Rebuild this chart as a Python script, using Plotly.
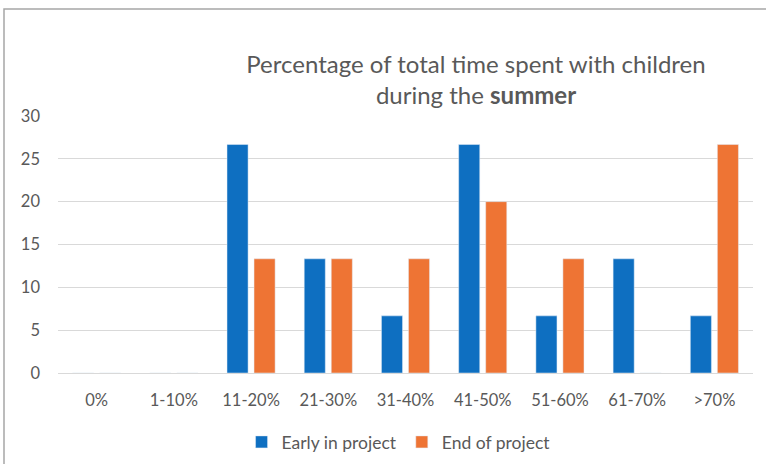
import plotly.graph_objects as go

categories = ["0%", "1-10%", "11-20%", "21-30%", "31-40%", "41-50%", "51-60%", "61-70%", ">70%"]
early = [0, 0, 26.67, 13.33, 6.67, 26.67, 6.67, 13.33, 6.67]
end = [0, 0, 13.33, 13.33, 13.33, 20, 13.33, 0, 26.67]

W, H = 766, 464
L, R, T, B = 58, 13, 116, 91
pw, ph = W - L - R, H - T - B

fig = go.Figure()
fig.add_trace(go.Bar(x=categories, y=early, name="Early in project", marker_color="#0E6FC1"))
fig.add_trace(go.Bar(x=categories, y=end, name="End of project", marker_color="#EE7434"))

font_fam = "Lato, 'Open Sans', sans-serif"
fig.update_layout(
    width=W, height=H,
    margin=dict(l=L, r=R, t=T, b=B, autoexpand=False),
    paper_bgcolor="white", plot_bgcolor="white",
    barmode="group", bargap=0.30, bargroupgap=0.22,
    font=dict(family=font_fam, color="#595959", size=16.5),
    title=dict(
        text="Percentage of total time spent with children<br>during the <b>summer</b>",
        x=(476 - L) / pw, xanchor="center", xref="paper",
        y=1 - 73 / H, yanchor="top",
        font=dict(size=24, color="#595959", family=font_fam),
    ),
    showlegend=True,
    legend=dict(orientation="h", x=0.49, xanchor="center", xref="paper",
                yref="container", y=1 - 442 / H, yanchor="middle",
                font=dict(size=17.5, color="#595959"), traceorder="normal"),
    xaxis=dict(showgrid=False, showline=False, ticks="", ticklabelstandoff=15, automargin=False,
               tickfont=dict(size=16.5, color="#595959")),
    yaxis=dict(range=[0, 30], dtick=5, showgrid=True, gridcolor="#D9D9D9", gridwidth=1,
               zeroline=True, zerolinecolor="#D9D9D9", zerolinewidth=1, automargin=False,
               showline=False, ticks="", ticklabelstandoff=17,
               tickfont=dict(size=16.5, color="#595959")),
    shapes=[dict(type="rect", xref="paper", yref="paper",
                 x0=(4 - L) / pw, x1=(W + 10 - L) / pw,
                 y0=(373 - (H + 10)) / ph, y1=(373 - 9) / ph,
                 line=dict(color="#A6A6A6", width=1.5), layer="below")],
)

fig.write_html("out.html", config={"displayModeBar": False},
               post_script="document.body.style.margin='0';document.body.style.overflow='hidden';")
